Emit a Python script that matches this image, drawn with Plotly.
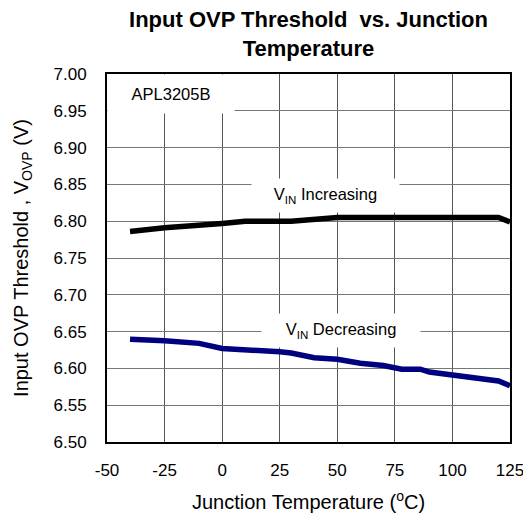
import plotly.graph_objects as go

temp_inc = [-40, -25, 0, 10, 30, 40, 50, 75, 100, 120, 125]
vovp_inc = [6.786, 6.791, 6.797, 6.800, 6.800, 6.803, 6.805, 6.805, 6.805, 6.805, 6.799]

temp_dec = [-40, -25, -10, 0, 25, 30, 40, 50, 60, 70, 78, 86, 90, 100, 110, 120, 125]
vovp_dec = [6.6395, 6.6377, 6.634, 6.627, 6.6227, 6.621, 6.6146, 6.6124, 6.607, 6.604,
            6.599, 6.599, 6.595, 6.5906, 6.588, 6.583, 6.5765]

x_ticks = [-50, -25, 0, 25, 50, 75, 100, 125]
y_ticks = [6.50, 6.55, 6.60, 6.65, 6.70, 6.75, 6.80, 6.85, 6.90, 6.95, 7.00]

FONT = "Liberation Sans, Arial, sans-serif"

fig = go.Figure()
fig.add_trace(go.Scatter(x=temp_inc, y=vovp_inc, mode="lines",
                         line=dict(color="#000000", width=5.5), showlegend=False))
fig.add_trace(go.Scatter(x=temp_dec, y=vovp_dec, mode="lines",
                         line=dict(color="#000080", width=5.5), showlegend=False))

# page body has an 8px default margin, so the figure is made 8px smaller
fig.update_layout(
    width=523, height=509,
    margin=dict(l=99, r=21, t=66, b=75, autoexpand=False),
    paper_bgcolor="white", plot_bgcolor="white",
    font=dict(family=FONT, size=17, color="black"),
    title=dict(text="<b>Input OVP Threshold  vs. Junction<br>Temperature</b>",
               x=0.5, xref="paper", xanchor="center", y=0.9625, yref="container", yanchor="middle",
               font=dict(family=FONT, size=22, color="black"), automargin=False),
)
fig.update_xaxes(range=[-50, 125], tickvals=x_ticks, ticktext=[str(v) for v in x_ticks],
                 showgrid=True, gridcolor="#555555", gridwidth=1,
                 showline=True, linecolor="black", linewidth=2, mirror=True,
                 ticks="", ticklabelstandoff=12, zeroline=False, automargin=False,
                 tickfont=dict(size=17),
                 title=dict(text="Junction Temperature (<sup>o</sup>C)", standoff=16,
                            font=dict(size=20)))
fig.update_yaxes(range=[6.50, 7.00], tickvals=y_ticks, tickformat=".2f",
                 showgrid=True, gridcolor="#777777", gridwidth=1,
                 showline=True, linecolor="black", linewidth=2, mirror=True,
                 ticks="", ticklabelstandoff=15, zeroline=False, automargin=False,
                 tickfont=dict(size=17),
                 title=dict(text="Input OVP Threshold , V<sub>OVP</sub> (V)", standoff=20,
                            font=dict(size=20)))

fig.add_annotation(xref="paper", yref="paper", x=0.0, y=1.0, xanchor="left", yanchor="top",
                   text="APL3205B", showarrow=False, bgcolor="white", width=124, height=36,
                   align="center", font=dict(size=16.5))
fig.add_annotation(x=45, y=6.835, text="V<sub>IN</sub> Increasing", showarrow=False,
                   bgcolor="white", width=145, height=31, font=dict(size=16.5))
fig.add_annotation(x=51.6, y=6.6515, text="V<sub>IN</sub> Decreasing", showarrow=False,
                   bgcolor="white", width=156, height=31, font=dict(size=16.5))

fig.write_html("out.html")
